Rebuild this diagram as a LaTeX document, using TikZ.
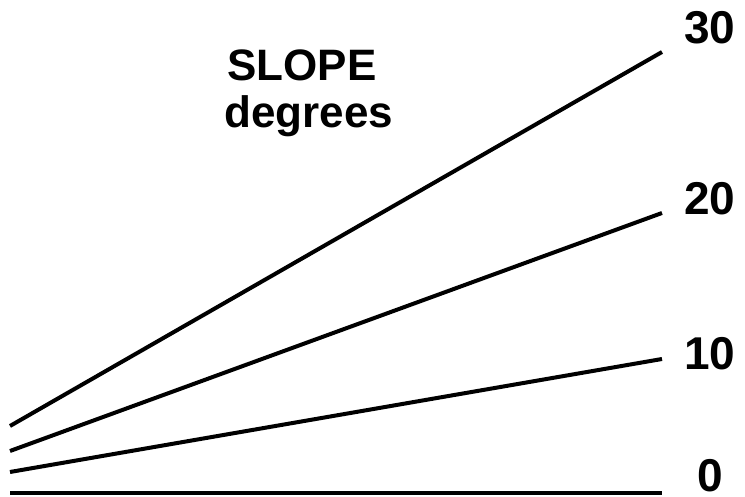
\documentclass[tikz,border=0pt]{standalone}
\usepackage{fontspec}
\setmainfont{Liberation Sans}
\begin{document}
\begin{tikzpicture}[x=1pt,y=1pt,
  slopeline/.style={line width=4pt,black},
  lbl/.style={font=\fontsize{46}{50}\selectfont\bfseries,anchor=base west,inner sep=0pt},
  ttl/.style={font=\fontsize{44}{48}\selectfont\bfseries,anchor=base,inner sep=0pt}]
\useasboundingbox (0,0) rectangle (745,497);
% line end points (y = 497 - pixel y)
\coordinate (a0) at (10,4);
\coordinate (b0) at (662,4);
\coordinate (a10) at (10,25);
\coordinate (b10) at (662,138);
\coordinate (a20) at (10,46);
\coordinate (b20) at (662,284);
\coordinate (a30) at (10,71);
\coordinate (b30) at (662,445);
\draw[slopeline] (a0) -- (b0);
\draw[slopeline] (a10) -- (b10);
\draw[slopeline] (a20) -- (b20);
\draw[slopeline] (a30) -- (b30);
\node[lbl] (l30) at (684,453) {30};
\node[lbl] (l20) at (684,282) {20};
\node[lbl] (l10) at (684,127) {10};
\node[lbl] (l0) at (697,5) {0};
\node[ttl] (t1) at (302,416) {SLOPE};
\node[ttl] (t2) at (309,369) {degrees};
\end{tikzpicture}
\end{document}
